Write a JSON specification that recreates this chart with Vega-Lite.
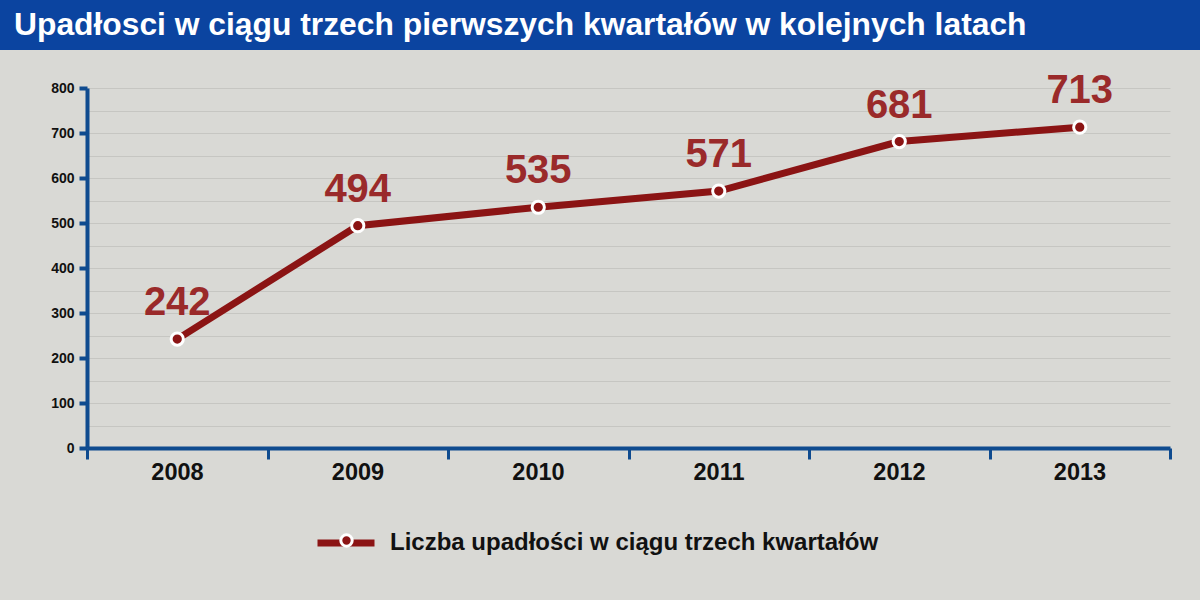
{
  "$schema": "https://vega.github.io/schema/vega-lite/v6.json",
  "background": "#d9d9d5",
  "padding": 0,
  "spacing": 21,
  "config": {"view": {"stroke": null}, "font": "Liberation Sans"},
  "vconcat": [
    {
      "width": 1200,
      "height": 50,
      "view": {"fill": "#0b44a0", "stroke": null},
      "data": {"values": [{"t": "Upadłosci w ciągu trzech pierwszych kwartałów w kolejnych latach"}]},
      "mark": {"type": "text", "align": "left", "baseline": "middle", "x": 14, "y": 25, "fontSize": 31.8, "fontWeight": "bold", "color": "white"},
      "encoding": {"text": {"field": "t"}}
    },
    {
      "width": 1170,
      "height": 360,
      "data": {"values": [
        {"rok": 2008, "liczba": 242, "s": "Liczba upadłości w ciągu trzech kwartałów", "p": " "},
        {"rok": 2009, "liczba": 494, "s": "Liczba upadłości w ciągu trzech kwartałów", "p": " "},
        {"rok": 2010, "liczba": 535, "s": "Liczba upadłości w ciągu trzech kwartałów", "p": " "},
        {"rok": 2011, "liczba": 571, "s": "Liczba upadłości w ciągu trzech kwartałów", "p": " "},
        {"rok": 2012, "liczba": 681, "s": "Liczba upadłości w ciągu trzech kwartałów", "p": " "},
        {"rok": 2013, "liczba": 713, "s": "Liczba upadłości w ciągu trzech kwartałów", "p": " "}
      ]},
      "encoding": {
        "x": {
          "field": "rok", "type": "quantitative",
          "scale": {"domain": [2007.5, 2013.5], "range": [87, 1170], "nice": false, "zero": false},
          "axis": {
            "title": " ",
            "titlePadding": 115,
            "titleFontSize": 12,
            "values": [2007.5, 2008.5, 2009.5, 2010.5, 2011.5, 2012.5, 2013.5],
            "labelExpr": "datum.value > 2013 ? '' : format(datum.value + 0.5, 'd')",
            "labelOffset": 90,
            "labelFlush": false,
            "labelOverlap": false,
            "labelBound": false,
            "labelFontSize": 23.5,
            "labelFontWeight": "bold",
            "labelColor": "#111111",
            "labelPadding": 1,
            "domainColor": "#0f4b8f",
            "domainWidth": 4,
            "tickColor": "#0f4b8f",
            "tickWidth": 3,
            "tickSize": 11,
            "grid": false
          }
        },
        "y": {
          "field": "liczba", "type": "quantitative",
          "scale": {"domain": [0, 800], "nice": false},
          "axis": {
            "title": null,
            "offset": -87,
            "minExtent": 0,
            "values": [0, 50, 100, 150, 200, 250, 300, 350, 400, 450, 500, 550, 600, 650, 700, 750, 800],
            "labelExpr": "datum.value % 100 ? '' : datum.label",
            "labelFontSize": 14,
            "labelFontWeight": "bold",
            "labelColor": "#111111",
            "labelPadding": 5,
            "domainColor": "#0f4b8f",
            "domainWidth": 4,
            "tickColor": "#0f4b8f",
            "tickWidth": 4,
            "tickSize": 8,
            "tickOpacity": {"condition": {"test": "datum.value % 100", "value": 0}, "value": 1},
            "grid": true,
            "gridColor": "#c6c6c2",
            "gridWidth": 1
          }
        }
      },
      "layer": [
        {
          "mark": {"type": "line", "strokeWidth": 7},
          "encoding": {
            "color": {
              "field": "s", "type": "nominal",
              "scale": {"range": ["#8b1414"]},
              "legend": {
                "title": null,
                "orient": "none",
                "legendX": 314,
                "legendY": 511,
                "padding": 0,
                "direction": "horizontal",
                "labelFontSize": 24,
                "labelFontWeight": "bold",
                "labelColor": "#111111",
                "labelLimit": 700,
                "labelOffset": 12,
                "symbolType": "stroke",
                "symbolSize": 3249,
                "symbolStrokeWidth": 7,
                "symbolStrokeColor": "#8b1414"
              }
            }
          }
        },
        {
          "mark": {"type": "point", "filled": true, "stroke": "white", "strokeWidth": 3, "size": 150, "opacity": 1},
          "encoding": {
            "fill": {
              "field": "p", "type": "nominal",
              "scale": {"range": ["#8b1414"]},
              "legend": {
                "title": null,
                "orient": "none",
                "legendX": 339,
                "legendY": 533,
                "padding": 0,
                "labelFontSize": 12,
                "labelLimit": 10,
                "symbolType": "circle",
                "symbolSize": 130,
                "symbolFillColor": "#8b1414",
                "symbolStrokeColor": "white",
                "symbolStrokeWidth": 3,
                "symbolOpacity": 1
              }
            }
          }
        },
        {
          "mark": {"type": "text", "dy": -36, "fontSize": 40, "fontWeight": "bold", "color": "#9a2a2a", "baseline": "middle"},
          "encoding": {"text": {"field": "liczba", "type": "quantitative"}}
        }
      ]
    }
  ]
}
